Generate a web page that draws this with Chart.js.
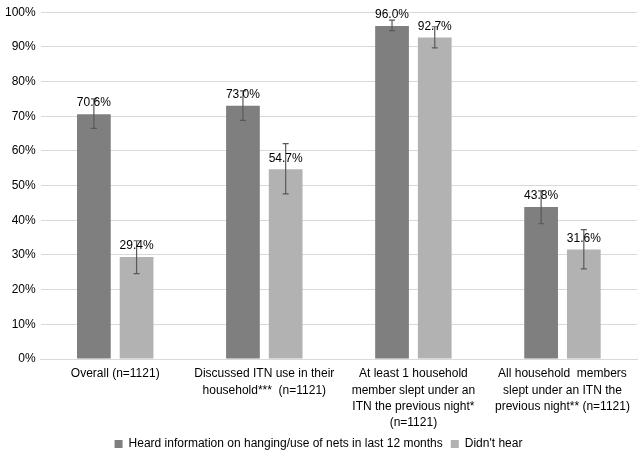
<!DOCTYPE html>
<html>
<head>
<meta charset="utf-8">
<script src="https://cdn.jsdelivr.net/npm/chart.js@4/dist/chart.umd.min.js"></script>
<style>
  body { margin: 0; background: #fff; }
</style>
</head>
<body>
<canvas id="chart" width="638" height="460"></canvas>
<script>
const categories = [
    ['Overall (n=1121)'],
    ['Discussed ITN use in their', 'household***  (n=1121)'],
    ['At least 1 household', 'member slept under an', 'ITN the previous night*', '(n=1121)'],
    ['All household  members', 'slept under an ITN the', 'previous night** (n=1121)']
];
const heardValues = [70.6, 73.0, 96.0, 43.8];
const heardErrLow = [66.5, 68.8, 94.7, 39.0];
const heardErrHigh = [75.0, 77.3, 97.7, 48.5];
const didntValues = [29.4, 54.7, 92.7, 31.6];
const didntErrLow = [24.6, 47.6, 89.7, 26.0];
const didntErrHigh = [34.1, 62.1, 95.8, 37.3];
const yTicks = [0, 10, 20, 30, 40, 50, 60, 70, 80, 90, 100];

const FONT = '"Liberation Sans", Arial, sans-serif';

// error bars + value labels drawn from the bar elements
const errorBars = {
    id: 'errorBars',
    afterDatasetsDraw(chart) {
        const ctx = chart.ctx;
        const y = chart.scales.y;
        chart.data.datasets.forEach((ds, di) => {
            const meta = chart.getDatasetMeta(di);
            meta.data.forEach((bar, i) => {
                const top = y.getPixelForValue(ds.errHigh[i]);
                const bot = y.getPixelForValue(ds.errLow[i]);
                ctx.save();
                ctx.strokeStyle = '#595959';
                ctx.lineWidth = 1.2;
                ctx.beginPath();
                ctx.moveTo(bar.x, top);
                ctx.lineTo(bar.x, bot);
                ctx.moveTo(bar.x - 3, top);
                ctx.lineTo(bar.x + 3, top);
                ctx.moveTo(bar.x - 3, bot);
                ctx.lineTo(bar.x + 3, bot);
                ctx.stroke();
                ctx.restore();
            });
        });
        chart.data.datasets.forEach((ds, di) => {
            const meta = chart.getDatasetMeta(di);
            meta.data.forEach((bar, i) => {
                ctx.save();
                ctx.fillStyle = '#000';
                ctx.font = '12px ' + FONT;
                ctx.textAlign = 'center';
                ctx.textBaseline = 'bottom';
                ctx.fillText(ds.data[i].toFixed(1) + '%', bar.x, bar.y - 5);
                ctx.restore();
            });
        });
    }
};

new Chart(document.getElementById('chart'), {
    type: 'bar',
    data: {
        labels: categories,
        datasets: [
            {
                label: 'Heard information on hanging/use of nets in last 12 months',
                data: heardValues,
                errLow: heardErrLow,
                errHigh: heardErrHigh,
                backgroundColor: '#7f7f7f',
                barPercentage: 0.79,
                categoryPercentage: 0.573
            },
            {
                label: "Didn't hear",
                data: didntValues,
                errLow: didntErrLow,
                errHigh: didntErrHigh,
                backgroundColor: '#b2b2b2',
                barPercentage: 0.79,
                categoryPercentage: 0.573
            }
        ]
    },
    options: {
        responsive: false,
        animation: false,
        layout: { padding: { top: 0, right: 1, left: 0, bottom: 0 } },
        scales: {
            x: {
                grid: { display: false, drawTicks: false },
                border: { color: '#d9d9d9' },
                afterFit(axis) {
                    // just tall enough for 4 label lines
                    axis.height = 71;
                },
                ticks: {
                    color: '#000',
                    padding: 7,
                    font: { family: FONT, size: 12, lineHeight: 1.35 },
                    maxRotation: 0,
                    autoSkip: false
                }
            },
            y: {
                min: 0,
                max: 100,
                afterBuildTicks(axis) {
                    axis.ticks = yTicks.map(v => ({ value: v }));
                },
                grid: { color: '#d9d9d9', drawTicks: false },
                border: { display: false },
                ticks: {
                    color: '#000',
                    padding: 5,
                    font: { family: FONT, size: 12 },
                    callback: v => v + '%'
                }
            }
        },
        plugins: {
            legend: {
                position: 'bottom',
                labels: {
                    color: '#000',
                    font: { family: FONT, size: 12 },
                    boxWidth: 8,
                    boxHeight: 8,
                    padding: 8
                }
            },
            tooltip: { enabled: false }
        }
    },
    plugins: [errorBars]
});
</script>
</body>
</html>
